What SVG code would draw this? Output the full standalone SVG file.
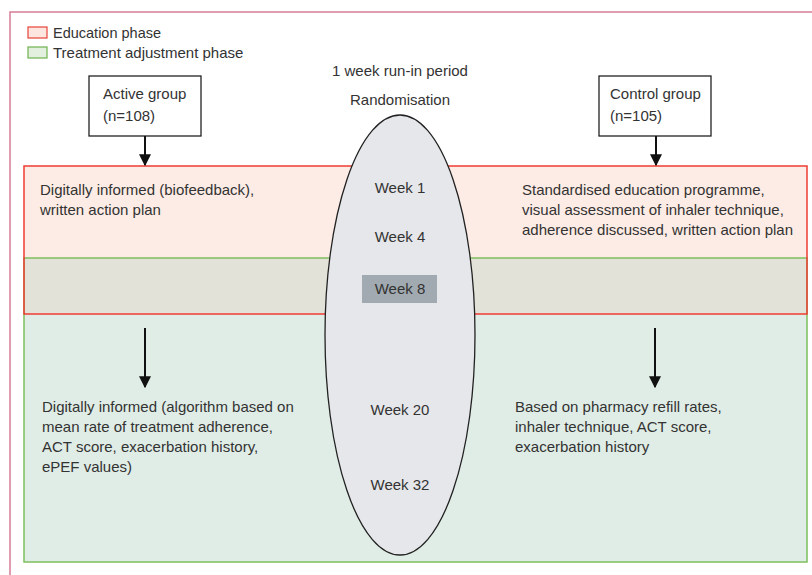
<svg xmlns="http://www.w3.org/2000/svg" width="812" height="575" viewBox="0 0 812 575">
<defs>
<style>
text{font-family:"Liberation Sans",Arial,sans-serif;font-size:15px;fill:#333;}
.c{text-anchor:middle;}
.box{fill:#fff;stroke:#222;stroke-width:1.3;}
.arr{stroke:#111;stroke-width:2;fill:none;marker-end:url(#ah);}
</style>
<marker id="ah" viewBox="0 0 10 10" refX="9" refY="5" markerWidth="6" markerHeight="6" markerUnits="strokeWidth" orient="auto">
<path d="M0,0 L10,5 L0,10 z" fill="#111"/>
</marker>
</defs>
<rect width="812" height="575" fill="#fff"/>
<path d="M10,575 V12 H812" fill="none" stroke="#d87d96" stroke-width="1.5"/>
<g id="legend">
<rect x="28" y="27" width="19" height="11" fill="#fde6df" stroke="#e8433a" stroke-width="1.2"/>
<text x="53" y="37.5" style="font-size:14.5px">Education phase</text>
<rect x="28" y="47" width="19" height="11" fill="#e3f0df" stroke="#6db24e" stroke-width="1.2"/>
<text x="53" y="57.5">Treatment adjustment phase</text>
</g>
<g id="phases">
<rect x="24" y="166" width="783" height="148" fill="#fdece5"/>
<rect x="24" y="258" width="783" height="304" fill="#e0ede6"/>
<rect x="24" y="258" width="783" height="56" fill="#e2e2d8"/>
<rect x="24" y="258" width="783" height="304" fill="none" stroke="#7dbf5c" stroke-width="1.5"/>
<rect x="24" y="166" width="783" height="148" fill="none" stroke="#ee3b32" stroke-width="1.5"/>
</g>
<g id="timeline">
<ellipse cx="400" cy="335" rx="75" ry="220" fill="#e6e7ea" stroke="#222" stroke-width="1.3"/>
<text class="c" x="400" y="76">1 week run-in period</text>
<text class="c" x="400" y="105">Randomisation</text>
<text class="c" x="400" y="193">Week 1</text>
<text class="c" x="400" y="242">Week 4</text>
<rect x="362" y="275" width="75" height="28" fill="#a1aab0"/>
<text class="c" x="400" y="294">Week 8</text>
<text class="c" x="400" y="415">Week 20</text>
<text class="c" x="400" y="490">Week 32</text>
</g>
<g id="active">
<rect class="box" x="89" y="76" width="112" height="60"/>
<text x="103" y="99">Active group</text>
<text x="103" y="121">(n=108)</text>
</g>
<g id="control">
<rect class="box" x="599" y="76" width="112" height="60"/>
<text x="610" y="99">Control group</text>
<text x="610" y="121">(n=105)</text>
</g>
<g id="active-education">
<text x="40" y="195">Digitally informed (biofeedback),</text>
<text x="40" y="215">written action plan</text>
</g>
<g id="control-education">
<text x="522" y="195">Standardised education programme,</text>
<text x="522" y="215">visual assessment of inhaler technique,</text>
<text x="522" y="235">adherence discussed, written action plan</text>
</g>
<g id="active-treatment">
<text x="42" y="412">Digitally informed (algorithm based on</text>
<text x="42" y="432">mean rate of treatment adherence,</text>
<text x="42" y="452">ACT score, exacerbation history,</text>
<text x="42" y="472">ePEF values)</text>
</g>
<g id="control-treatment">
<text x="515" y="412">Based on pharmacy refill rates,</text>
<text x="515" y="432">inhaler technique, ACT score,</text>
<text x="515" y="452">exacerbation history</text>
</g>
<g id="connectors">
<line class="arr" x1="145" y1="136" x2="145" y2="165"/>
<line class="arr" x1="656" y1="136" x2="656" y2="165"/>
<line class="arr" x1="145" y1="328" x2="145" y2="387"/>
<line class="arr" x1="655" y1="328" x2="655" y2="387"/>
</g>
</svg>
